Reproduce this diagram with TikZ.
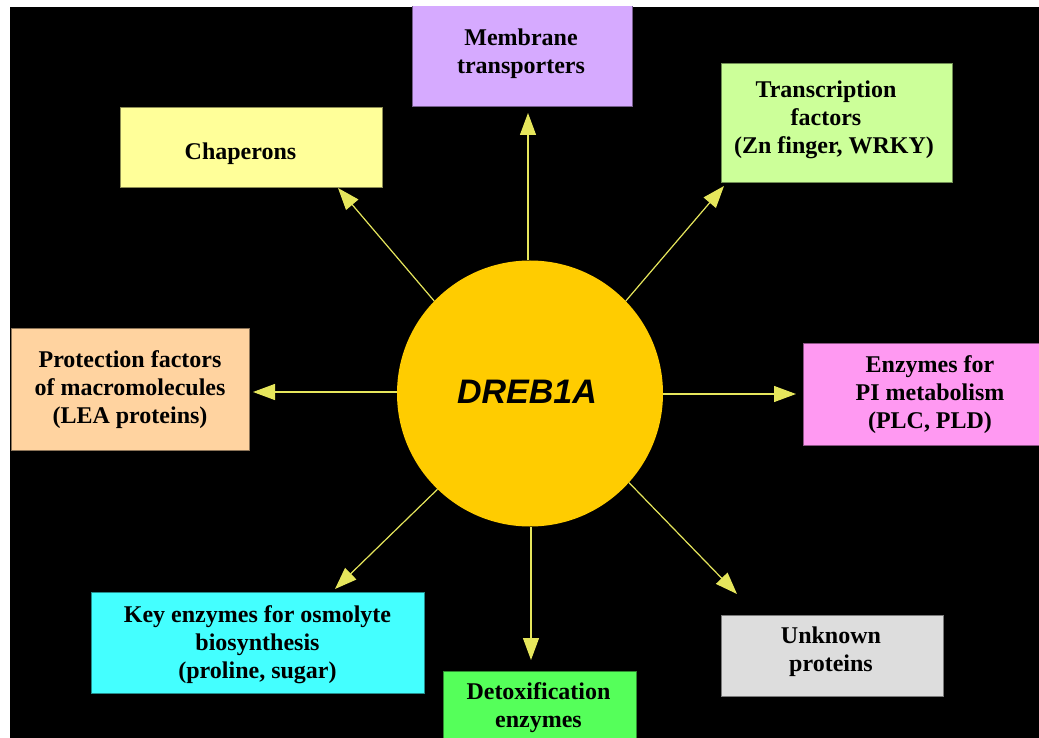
\documentclass[tikz,border=0pt]{standalone}
\usepackage{fontspec}
\setmainfont{Liberation Serif}
\newfontfamily\arialfont{Liberation Sans}
\usetikzlibrary{arrows.meta}
\definecolor{cMemb}{HTML}{D6AAFF}
\definecolor{cChap}{HTML}{FFFF99}
\definecolor{cTrans}{HTML}{CCFF99}
\definecolor{cProt}{HTML}{FFD3A0}
\definecolor{cPI}{HTML}{FF99F2}
\definecolor{cKey}{HTML}{44FFFF}
\definecolor{cDetox}{HTML}{55FF5A}
\definecolor{cUnk}{HTML}{DDDDDD}
\definecolor{cCirc}{HTML}{FFCC00}
\definecolor{cArrow}{HTML}{E6E65C}
\tikzset{
  box/.style={rectangle, fill=#1, draw=#1!55!black, line width=0.8pt, inner sep=0pt},
  lbl/.style={font=\bfseries\fontsize{24}{28}\selectfont, align=center, text=black, inner sep=0pt},
  conn/.style={draw=cArrow, line width=1.2pt, -{Triangle[length=22pt,width=16pt]}},
}
\begin{document}
\begin{tikzpicture}[x=1pt,y=-1pt]
\useasboundingbox (0,0) rectangle (1039,738);
\clip (0,0) rectangle (1039,738);
\fill[white] (0,0) rectangle (1039,738);
\fill[black] (10,7) rectangle (1050,750);
\begin{scope}
\clip (10,7) rectangle (1050,750);
% boxes
\node[box=cMemb, minimum width=220pt, minimum height=111pt] (memb) at (522,50.5) {};
\node[box=cChap, minimum width=262pt, minimum height=80pt] (chap) at (251,147) {};
\node[box=cTrans, minimum width=231pt, minimum height=119pt] (trans) at (836.5,122.5) {};
\node[box=cProt, minimum width=238pt, minimum height=122pt] (prot) at (130,389) {};
\node[box=cPI, minimum width=242pt, minimum height=102pt] (pi) at (924,394) {};
\node[box=cKey, minimum width=333pt, minimum height=101pt] (key) at (257.5,642.5) {};
\node[box=cDetox, minimum width=193pt, minimum height=74pt] (detox) at (539.5,708) {};
\node[box=cUnk, minimum width=222pt, minimum height=81pt] (unk) at (832,655.5) {};
% labels
\node[lbl] (membT) at (521,54) {Membrane\\transporters};
\node[lbl] (chapT) at (240.5,154) {Chaperons};
\node[lbl] (transT) at (826,120) {Transcription\\factors\\\hspace*{16pt}(Zn finger, WRKY)};
\node[lbl] (protT) at (130,390) {Protection factors\\of macromolecules\\(LEA proteins)};
\node[lbl] (piT) at (930,395) {Enzymes for\\PI metabolism\\(PLC, PLD)};
\node[lbl] (keyT) at (257.5,644.5) {Key enzymes for osmolyte\\biosynthesis\\(proline, sugar)};
\node[lbl] (detoxT) at (538.5,708) {Detoxification\\enzymes};
\node[lbl] (unkT) at (831,652) {Unknown\\proteins};
% center
\node[circle, fill=cCirc, minimum size=266pt, inner sep=0pt] (c) at (530,393.5) {};
\node[font=\arialfont\bfseries\itshape\fontsize{34}{40}\selectfont, inner sep=0pt] (cT) at (527,392) {DREB1A};
% arrow tips
\coordinate (tU) at (528,113);
\coordinate (tUL) at (338,188);
\coordinate (tUR) at (724,186);
\coordinate (tL) at (253,392);
\coordinate (tR) at (796,394);
\coordinate (tDL) at (335,589);
\coordinate (tD) at (531,660);
\coordinate (tDR) at (737,594);
\draw[conn] (c.north -| tU) -- (tU);
\draw[conn] (c.136) -- (tUL);
\draw[conn] (c.44) -- (tUR);
\draw[conn] (c.west |- tL) -- (tL);
\draw[conn] (c.east |- tR) -- (tR);
\draw[conn] (c.226) -- (tDL);
\draw[conn] (c.south -| tD) -- (tD);
\draw[conn] (c.318) -- (tDR);
\end{scope}
\end{tikzpicture}
\end{document}
